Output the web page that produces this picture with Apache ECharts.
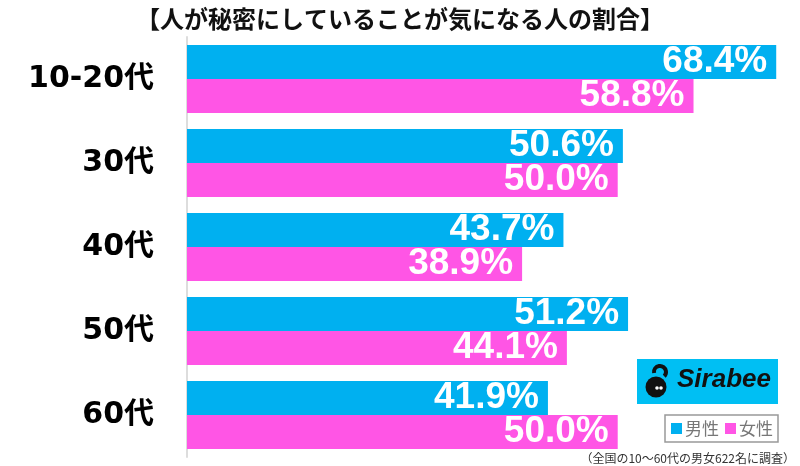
<!DOCTYPE html>
<html><head><meta charset="utf-8">
<script src="https://cdn.jsdelivr.net/npm/echarts@6/dist/echarts.min.js"></script>
<style>html,body{margin:0;padding:0;background:#fff}#c{width:800px;height:466px}</style>
</head><body><div id="c"></div>
<script>
var title = '【人が秘密にしていることが気になる人の割合】';
var categories = ['10-20代', '30代', '40代', '50代', '60代'];
var maleValues = [68.4, 50.6, 43.7, 51.2, 41.9];
var femaleValues = [58.8, 50.0, 38.9, 44.1, 50.0];
var seriesNames = ['男性', '女性'];
var note = '（全国の10〜60代の男女622名に調査）';

var FONT = '"Noto Sans CJK JP", "Noto Sans", sans-serif';
var WIDE = '"DejaVu Sans", "Noto Sans CJK JP", sans-serif';
var chart = echarts.init(document.getElementById('c'), null, {renderer: 'canvas'});
var lbl = {
  show: true, position: 'insideRight', distance: 9, color: '#fff',
  fontSize: 37, fontWeight: 'bold', fontFamily: '"Liberation Sans", Arial, sans-serif',
  formatter: function (p) { return p.value.toFixed(1) + '%'; }
};
chart.setOption({
  animation: false,
  title: {text: title, left: 'center', top: 2,
    textStyle: {fontSize: 24, fontWeight: 'bold', color: '#111', fontFamily: FONT}},
  grid: {left: 187, right: 10, top: 37, bottom: 9, containLabel: false},
  xAxis: {type: 'value', min: 0, max: 70, show: false},
  yAxis: {type: 'category', inverse: true, data: categories,
    axisLine: {show: true, lineStyle: {color: '#dddddd', width: 2}},
    axisTick: {show: false},
    axisLabel: {margin: 33, fontSize: 30, fontWeight: 'bold', color: '#000', fontFamily: WIDE}},
  legend: {right: 22, bottom: 24, itemWidth: 11, itemHeight: 11, itemGap: 6,
    icon: 'rect', padding: [5, 5, 5, 6], borderColor: '#999', borderWidth: 1.5,
    textStyle: {fontSize: 17, color: '#777', fontFamily: FONT, padding: [0, 0, 0, -2]},
    data: seriesNames},
  series: [
    {name: seriesNames[0], type: 'bar', data: maleValues, barGap: '0%', barCategoryGap: '19%',
      itemStyle: {color: '#00B0F0'}, label: lbl},
    {name: seriesNames[1], type: 'bar', data: femaleValues,
      itemStyle: {color: '#FF55E5'}, label: lbl}
  ],
  graphic: [
    {type: 'rect', shape: {x: 637, y: 359, width: 141, height: 45}, style: {fill: '#00BFF3'}},
    {type: 'circle', shape: {cx: 656, cy: 387, r: 10.5}, style: {fill: '#111'}},
    {type: 'arc', shape: {cx: 660, cy: 372, r: 6, startAngle: Math.PI * 0.95, endAngle: Math.PI * 2.25}, style: {stroke: '#111', lineWidth: 4, fill: null}},
    {type: 'circle', shape: {cx: 657, cy: 388, r: 1.8}, style: {fill: '#fff'}},
    {type: 'circle', shape: {cx: 661, cy: 388, r: 1.8}, style: {fill: '#fff'}},
    {type: 'text', left: 677, top: 367, style: {text: 'Sirabee', fill: '#111', fontSize: 26, fontWeight: 'bold', fontStyle: 'italic', fontFamily: 'Arial, "Liberation Sans", sans-serif'}},
    {type: 'text', right: 5, bottom: 2, style: {text: note, fill: '#333', fontSize: 12, fontFamily: FONT}}
  ]
});
</script></body></html>
